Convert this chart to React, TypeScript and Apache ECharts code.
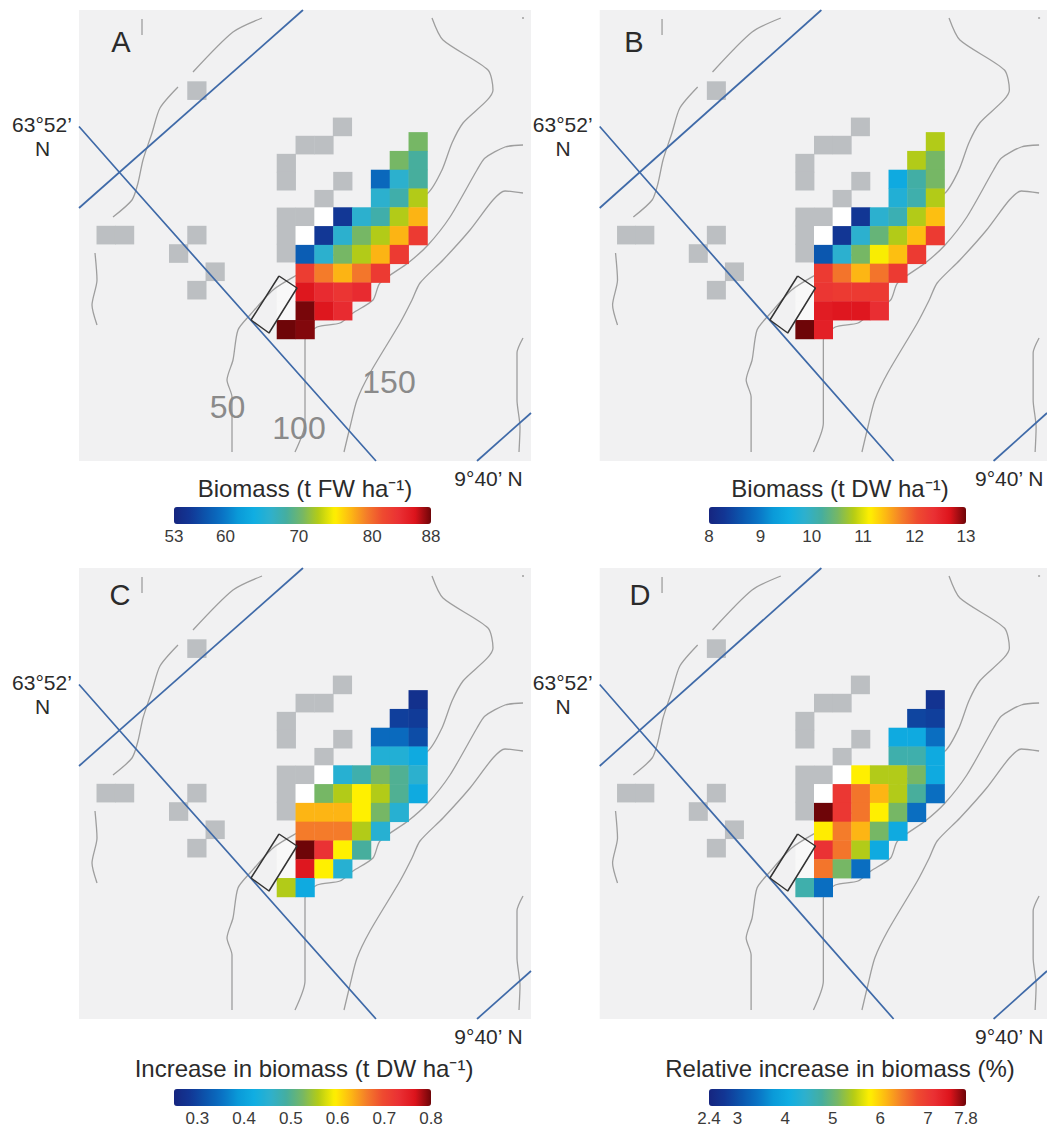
import React, { useEffect, useRef } from "react";
import * as echarts from "echarts";

const FONT = "Liberation Sans";
const CELL_X = 18.83;
const CELL_Y = 18.79;

const rowIndex = [7, 8, 9, 10, 11, 12, 13, 14, 15, 16, 17];
const rowStart = [18, 17, 16, 16, 14, 13, 12, 12, 12, 12, 11];

const biomassFW = [
  [70.5],
  [70.5, 68.4],
  [58.8, 66, 68.4],
  [66, 67.8, 72.6],
  [55.2, 66, 67.8, 72.6, 77.2],
  [55.2, 66, 70.5, 72.6, 77.2, 82.8],
  [58, 66, 70.5, 72.6, 77.2, 82.8],
  [82.5, 79.3, 77.2, 79.5, 82.8],
  [85.6, 84, 83.2, 84],
  [87.8, 85.6, 84],
  [88, 87.6],
];
const biomassDW = [
  [10.8],
  [10.8, 10.5],
  [9.5, 10.15, 10.5],
  [9.75, 10.1, 10.8],
  [8.3, 9.85, 10.05, 10.8, 11.4],
  [8.3, 9.85, 10.4, 10.8, 11.4, 12.25],
  [8.65, 9.85, 10.5, 11.1, 11.4, 12.25],
  [12.25, 11.8, 11.45, 11.8, 12.25],
  [12.3, 12.25, 12.25, 12.25],
  [12.6, 12.65, 12.65, 12.4],
  [13, 12.55],
];
const increaseDW = [
  [0.272],
  [0.294, 0.289],
  [0.344, 0.344, 0.31],
  [0.443, 0.443, 0.415],
  [0.448, 0.481, 0.525, 0.498, 0.454],
  [0.525, 0.558, 0.594, 0.558, 0.498, 0.415],
  [0.63, 0.63, 0.63, 0.594, 0.525, 0.448],
  [0.663, 0.663, 0.663, 0.558, 0.448],
  [0.8, 0.729, 0.594, 0.492],
  [0.762, 0.594, 0.448],
  [0.558, 0.415],
];
const relativeIncrease = [
  [2.67],
  [2.89, 2.83],
  [4.02, 4.02, 3.37],
  [4.67, 4.67, 4.02],
  [5.78, 5.42, 5.42, 5.1, 4.02],
  [7.04, 6.5, 6.13, 5.42, 4.78, 3.37],
  [7.8, 7.04, 6.5, 5.78, 5.1, 3.37],
  [5.8, 6.45, 6.13, 5.1, 4.02],
  [7.1, 6.5, 5.42, 4.02],
  [6.5, 5.1, 3.37],
  [4.67, 3.37],
];

const grayCols = [13.98, 12, 13, 11, 11, 14, 13, 11, 12, 11, 11, 1.43, 2.41, 6.25, 6.25, 5.28, 7.22, 6.25];
const grayRows = [6.21, 7.18, 7.18, 8.14, 9.1, 9.1, 10.06, 11, 11, 11.97, 12.93, 11.97, 11.97, 4.28, 11.97, 12.95, 13.92, 14.9];
const whiteCols = [13, 12];
const whiteRows = [11, 12];
const paleCols = [11, 11];
const paleRows = [16, 15];

const blueLines = [
  [[79, 208], [303, 10]],
  [[79, 126.5], [120, 173], [376, 461]],
  [[477, 461], [531, 413]],
];
const contours = [
  [[142, 19], [142, 35]],
  [[522, 18], [524, 18]],
  [[193, 72], [233, 32], [262, 18]],
  [[178, 87], [160, 108], [152, 133], [143, 160], [138, 183], [132, 200], [113, 217]],
  [[95, 253], [97, 280], [92, 305], [97, 325]],
  [[432, 18], [443, 40], [488, 70], [493, 90], [463, 123], [452, 143], [442, 170], [428, 193], [360, 240], [297, 275], [273, 290], [250, 315], [238, 330], [233, 360], [227, 380], [232, 397], [232, 452]],
  [[523, 145], [505, 147], [485, 158], [477, 170], [450, 217], [428, 245], [408, 263], [380, 283], [373, 300], [353, 313], [340, 323], [317, 327], [305, 340], [305, 423], [295, 452]],
  [[523, 193], [505, 191], [493, 200], [470, 230], [443, 260], [420, 283], [412, 300], [400, 323], [370, 373], [357, 400], [350, 427], [344, 452]],
  [[523, 338], [517, 353], [517, 400], [520, 427], [519, 452]],
];
const siteBox = [[279, 276], [297, 288], [269, 333], [251, 320], [279, 276]];

const gradient = [
  "#16257f", "#123795", "#0b55ad", "#0a72c4", "#0a9ad8", "#10aee2", "#2eb0cd", "#45ae9f", "#76b765",
  "#b5cc15", "#fff000", "#fdb813", "#f47c2a", "#ee4a30", "#ea3034", "#dd141c", "#6e0508",
];

const panelValues = [biomassFW, biomassDW, increaseDW, relativeIncrease];
const panelLetters = ["A", "B", "C", "D"];
const panelTitles = [
  "Biomass (t FW ha\u207B\u00B9)",
  "Biomass (t DW ha\u207B\u00B9)",
  "Increase in biomass (t DW ha\u207B\u00B9)",
  "Relative increase in biomass (%)",
];
const scaleMin = [53, 8, 0.25, 2.4];
const scaleMax = [88, 13, 0.8, 7.8];
const scaleTicks = [
  [53, 60, 70, 80, 88],
  [8, 9, 10, 11, 12, 13],
  [0.3, 0.4, 0.5, 0.6, 0.7, 0.8],
  [2.4, 3, 4, 5, 6, 7, 7.8],
];
const panelLeft = [79, 599.7, 79, 599.7];
const panelTop = [10, 10, 568, 568];
const barLeft = [174, 709, 174, 709];
const barTop = [507, 507, 1089, 1089];
const titleX = [305, 840, 304, 840];
const titleY = [488, 488, 1068, 1068];
const letterX = [121, 634, 120, 640];
const letterY = [42, 42, 595, 595];
const depthLabels = ["50", "100", "150"];
const depthX = [227.5, 299, 389];
const depthY = [407, 428, 382];

const cellX = (c: number) => 79 + c * CELL_X;
const cellY = (r: number) => 10 + r * CELL_Y;

function cellRender(w: number, h: number, fixed?: string) {
  return (_: any, api: any) => {
    const x = api.value(0);
    const y = api.value(1);
    const a = api.coord([x - (w * CELL_X) / 2, y - (h * CELL_Y) / 2]);
    const b = api.coord([x + (w * CELL_X) / 2, y + (h * CELL_Y) / 2]);
    return {
      type: "rect",
      shape: { x: a[0], y: a[1], width: b[0] - a[0] + 0.4, height: b[1] - a[1] + 0.4 },
      style: { fill: fixed || api.visual("color") },
    };
  };
}

function lineSeries(data: number[][], i: number, color: string, width: number, z: number, smooth = 0) {
  return {
    type: "line",
    xAxisIndex: i,
    yAxisIndex: i,
    data,
    showSymbol: false,
    silent: true,
    smooth,
    z,
    lineStyle: { color, width },
    itemStyle: { color },
  };
}

function staticCells(i: number, cols: number[], rows: number[], w: number, h: number, color: string) {
  return {
    type: "custom",
    xAxisIndex: i,
    yAxisIndex: i,
    silent: true,
    z: 1,
    renderItem: cellRender(w, h, color),
    data: cols.map((c, k) => [cellX(c), cellY(rows[k])]),
  };
}

function buildOption() {
  const maps: any = { grid: [], x: [], y: [] };
  const bars: any = { grid: [], x: [], y: [] };
  const series: any[] = [];
  const visualMap: any[] = [];
  const graphic: any[] = [];

  const text = (t: string, x: number, y: number, size: number, color = "#2b2b2b") => ({
    type: "text",
    x,
    y,
    z: 20,
    silent: true,
    style: { text: t, fill: color, font: `${size}px "${FONT}"`, textAlign: "center", textVerticalAlign: "middle" },
  });

  panelValues.forEach((values, i) => {
    maps.grid.push({
      left: panelLeft[i],
      top: panelTop[i],
      width: 452,
      height: 451,
      show: true,
      backgroundColor: "#f1f1f2",
      borderWidth: 0,
    });
    maps.x.push({ type: "value", gridIndex: i, min: 79, max: 531, show: false });
    maps.y.push({ type: "value", gridIndex: i, min: 10, max: 461, inverse: true, show: false });

    series.push(staticCells(i, grayCols, grayRows, 1, 0.97, "#bcbfc2"));
    series.push(staticCells(i, whiteCols, whiteRows, 1, 1, "#ffffff"));
    series.push(staticCells(i, paleCols, paleRows, 1, 1, "#f8f8f8"));
    contours.forEach((d) => series.push(lineSeries(d, i, "#9e9e9e", 1.3, 2, 0.25)));
    blueLines.forEach((d) => series.push(lineSeries(d, i, "#3f6aa8", 1.7, 2)));

    const cells: number[][] = [];
    values.forEach((row, k) => {
      row.forEach((v, j) => cells.push([cellX(rowStart[k] + j), cellY(rowIndex[k]), v]));
    });
    visualMap.push({
      type: "continuous",
      seriesIndex: series.length,
      dimension: 2,
      min: scaleMin[i],
      max: scaleMax[i],
      orient: "horizontal",
      left: barLeft[i],
      top: barTop[i],
      padding: 0,
      itemWidth: 17,
      itemHeight: 257,
      text: null,
      showLabel: false,
      calculable: false,
      hoverLink: false,
      inRange: { color: gradient },
    });
    series.push({
      type: "custom",
      xAxisIndex: i,
      yAxisIndex: i,
      silent: true,
      z: 3,
      renderItem: cellRender(1, 1),
      data: cells,
    });
    series.push(lineSeries(siteBox, i, "#333333", 1.5, 4));

    const g = 4 + i;
    bars.grid.push({ left: barLeft[i], top: barTop[i], width: 257, height: 17 });
    bars.x.push({
      type: "value",
      gridIndex: g,
      min: scaleMin[i],
      max: scaleMax[i],
      axisLine: { show: false },
      axisTick: { show: false },
      splitLine: { show: false },
      axisLabel: {
        customValues: scaleTicks[i],
        margin: 4,
        fontFamily: FONT,
        fontSize: 17,
        color: "#3a3a3a",
      },
    });
    bars.y.push({ type: "value", gridIndex: g, min: 0, max: 1, show: false });

    const dx = panelLeft[i] - 79;
    const dy = panelTop[i] - 10;
    graphic.push(text(panelLetters[i], letterX[i], letterY[i], 29));
    graphic.push(text("63\u00B052\u2019", 42 + dx, 124 + dy, 21));
    graphic.push(text("N", 42.5 + dx, 148 + dy, 21));
    graphic.push(text("9\u00B040\u2019 N", 488.5 + dx, 478 + dy, 21));
    graphic.push(text(panelTitles[i], titleX[i], titleY[i], 24));
  });

  depthLabels.forEach((t, k) => graphic.push(text(t, depthX[k], depthY[k], 32, "#8a8a8a")));

  return {
    animation: false,
    backgroundColor: "#ffffff",
    grid: [...maps.grid, ...bars.grid],
    xAxis: [...maps.x, ...bars.x],
    yAxis: [...maps.y, ...bars.y],
    visualMap,
    series,
    graphic: { elements: graphic },
  };
}

export default function App() {
  const ref = useRef<HTMLDivElement>(null);
  useEffect(() => {
    const chart = echarts.init(ref.current!, undefined, { renderer: "svg" });
    chart.setOption(buildOption() as any);
    return () => chart.dispose();
  }, []);
  return <div ref={ref} style={{ position: "absolute", left: 0, top: 0, width: 1047, height: 1128 }} />;
}
